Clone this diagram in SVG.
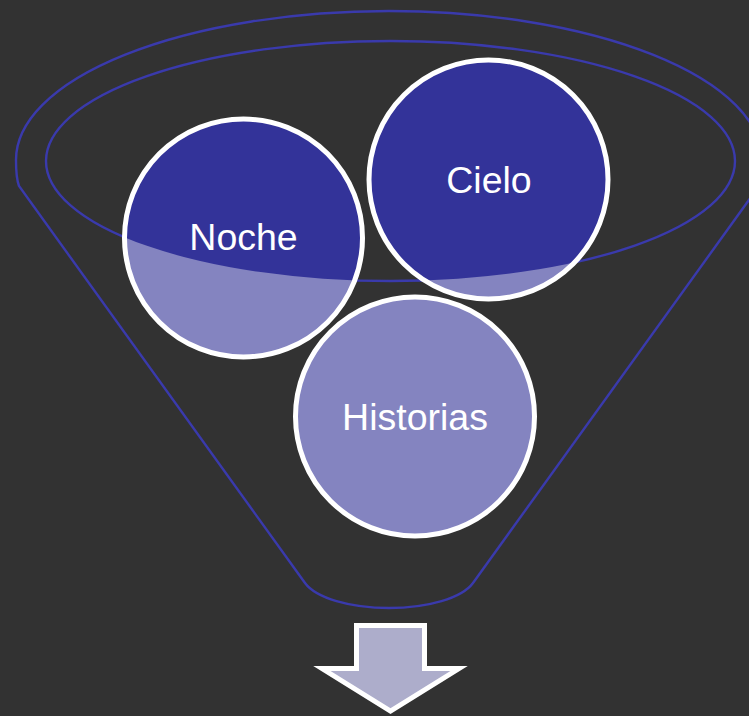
<svg xmlns="http://www.w3.org/2000/svg" width="749" height="716" viewBox="0 0 749 716">
  <defs>
    <style>
      .funnel { fill: none; stroke: #3a3aac; stroke-width: 2.4; }
      .circ { fill: #8484c0; }
      .dark { fill: #333399; }
      .ring { fill: none; stroke: #ffffff; stroke-width: 5; }
      .lbl { fill: #ffffff; font-family: "Liberation Sans", Arial, sans-serif; font-size: 37.5px; text-anchor: middle; }
    </style>
    <clipPath id="topClip">
      <ellipse cx="390.5" cy="161" rx="344.5" ry="120"/>
    </clipPath>
  </defs>
  <rect x="0" y="0" width="749" height="716" fill="#323232"/>

  <g id="funnel">
    <path class="funnel" d="M 305,583 L 19,186 Q 16,178 16,160 A 373 149 0 0 1 762,160 Q 762,178 759,186 L 473,583 C 462,598 428,608 389,608 C 350,608 316,598 305,583 Z"/>
    <ellipse class="funnel" cx="390.5" cy="161" rx="344.5" ry="120"/>
  </g>

  <g id="noche">
    <circle class="circ" cx="243.5" cy="238" r="119"/>
    <circle class="dark" cx="243.5" cy="238" r="119" clip-path="url(#topClip)"/>
    <circle class="ring" cx="243.5" cy="238" r="119"/>
    <text class="lbl" x="243.5" y="250">Noche</text>
  </g>

  <g id="cielo">
    <circle class="circ" cx="488.5" cy="179.5" r="119.5"/>
    <circle class="dark" cx="488.5" cy="179.5" r="119.5" clip-path="url(#topClip)"/>
    <circle class="ring" cx="488.5" cy="179.5" r="119.5"/>
    <text class="lbl" x="489" y="193">Cielo</text>
  </g>

  <g id="historias">
    <circle class="circ" cx="415" cy="416.5" r="119.5"/>
    <circle class="ring" cx="415" cy="416.5" r="119.5"/>
    <text class="lbl" x="415" y="430">Historias</text>
  </g>

  <g id="arrow">
    <polygon points="356.5,625.5 424.5,625.5 424.5,668.5 459,668.5 390.5,711 322,668.5 356.5,668.5" fill="#adadcb" stroke="#ffffff" stroke-width="5" stroke-linejoin="miter"/>
  </g>
</svg>
